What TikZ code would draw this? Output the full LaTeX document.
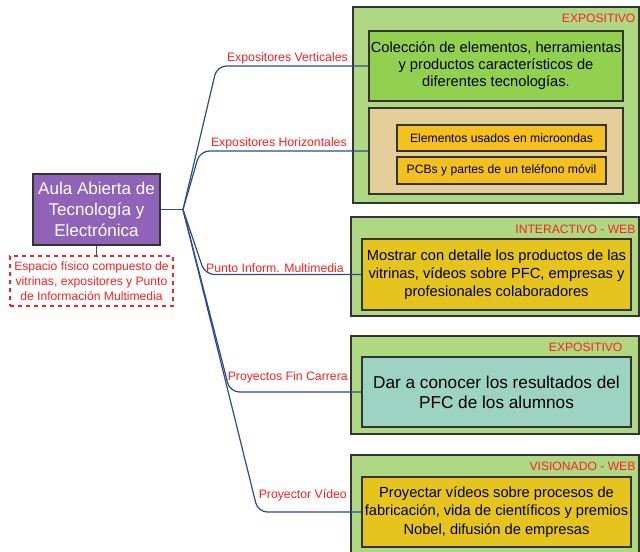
\documentclass[tikz,border=0pt]{standalone}
\usepackage{fontspec}
\setmainfont{Liberation Sans}
\usetikzlibrary{positioning}
\definecolor{grpgreen}{HTML}{AFD882}
\definecolor{leafgreen}{HTML}{92D050}
\definecolor{tanbox}{HTML}{E4CF9B}
\definecolor{ambar}{HTML}{F4C01E}
\definecolor{mustard}{HTML}{E6C41E}
\definecolor{teal}{HTML}{9DD3C2}
\definecolor{lila}{HTML}{8F63B8}
\definecolor{rojo}{HTML}{FF2020}
\definecolor{rama}{HTML}{2A4D8A}

\begin{document}
\begin{tikzpicture}[x=0.75pt, y=-0.75pt,
    box/.style={draw=black!80, line width=0.8pt, align=center, inner sep=0pt},
    grupo/.style={box, fill=grpgreen, minimum width=216pt},
    hoja/.style={box, minimum width=201.75pt, minimum height=52.5pt},
    tag/.style={text=rojo, font=\fontsize{9.1}{10}\selectfont, inner sep=1pt},
    rotulo/.style={text=rojo, font=\fontsize{9.2}{10}\selectfont, inner sep=1.5pt, anchor=south east},
    branch/.style={draw=rama, line width=0.9pt, rounded corners=7pt}]
    \clip (0,0) rectangle (640,552);

    % nodo central y nota
    \node[box, fill=lila, text=white, minimum width=95.25pt, minimum height=53.25pt,
          font=\fontsize{12.8}{15.75}\selectfont] (aula) at (96.5,209.5)
          {Aula Abierta de\\Tecnología y\\Electrónica};
    \node[box, draw=rojo, dashed, text=rojo, minimum width=122.25pt, minimum height=37.5pt,
          font=\fontsize{9.1}{11.25}\selectfont] (nota) at (91.5,281)
          {Espacio físico compuesto de\\vitrinas, expositores y Punto\\de Información Multimedia};
    \draw[draw=black!70, line width=0.8pt] (aula.south) -- (aula.south |- nota.north);

    % grupos
    \node[grupo, minimum width=214.5pt, minimum height=147pt] (g1) at (496,105) {};
    \node[grupo, minimum height=74.25pt] (g2) at (495,266.5) {};
    \node[grupo, minimum height=73.5pt] (g3) at (495,385) {};
    \node[grupo, minimum height=78.75pt] (g4) at (495,507.5) {};
    \node[tag, anchor=east] at (637,18) {EXPOSITIVO};
    \node[tag, anchor=east] at (637,229) {INTERACTIVO - WEB};
    \node[tag, anchor=east] at (624,347) {EXPOSITIVO};
    \node[tag, anchor=east] at (637,466) {VISIONADO - WEB};

    % contenidos
    \node[box, fill=leafgreen, minimum width=190.5pt, minimum height=52.5pt,
          font=\fontsize{11}{12.75}\selectfont] (vert) at (496,66)
          {Colección de elementos, herramientas\\y productos característicos de\\diferentes tecnologías.};
    \node[box, fill=tanbox, minimum width=190.5pt, minimum height=64.5pt] (horiz) at (496,151) {};
    \node[box, fill=ambar, minimum width=156.75pt, minimum height=19.5pt,
          font=\fontsize{9.1}{10}\selectfont] (micro) at (501.5,138) {Elementos usados en microondas};
    \node[box, fill=ambar, minimum width=156.75pt, minimum height=20.25pt,
          font=\fontsize{9.1}{10}\selectfont] (movil) at (501.5,170.5) {PCBs y partes de un teléfono móvil};
    \node[hoja, fill=mustard, minimum height=53.25pt, font=\fontsize{11}{13.3}\selectfont] (punto) at (496.5,274.5)
          {Mostrar con detalle los productos de las\\vitrinas, vídeos sobre PFC, empresas y\\profesionales colaboradores};
    \node[hoja, fill=teal, font=\fontsize{12.9}{15}\selectfont] (pfc) at (496.5,392)
          {Dar a conocer los resultados del\\PFC de los alumnos};
    \node[hoja, fill=mustard, font=\fontsize{11}{13.7}\selectfont] (video) at (496.5,512)
          {Proyectar vídeos sobre procesos de\\fabricación, vida de científicos y premios\\Nobel, difusión de empresas};

    % ramas
    \coordinate (hub) at (183,209.5);
    \draw[branch] (aula.east) -- (hub);
    \coordinate (c1) at (217,66);
    \coordinate (c2) at (200,151);
    \coordinate (c3) at (205,274.5);
    \coordinate (c4) at (230,392);
    \coordinate (c5) at (258,512);
    \draw[branch] (hub) -- (c1) -- (vert.west);
    \draw[branch] (hub) -- (c2) -- (horiz.west);
    \draw[branch] (hub) -- (c3) -- (punto.west);
    \draw[branch] (hub) -- (c4) -- (pfc.west);
    \draw[branch] (hub) -- (c5) -- (video.west);
    \node[rotulo] at (350,66) {Expositores Verticales};
    \node[rotulo] at (349,151) {Expositores Horizontales};
    \node[rotulo] at (346,274.5) {Punto Inform. Multimedia};
    \node[rotulo] at (350,385) {Proyectos Fin Carrera};
    \node[rotulo] at (349,503) {Proyector Vídeo};
\end{tikzpicture}
\end{document}
